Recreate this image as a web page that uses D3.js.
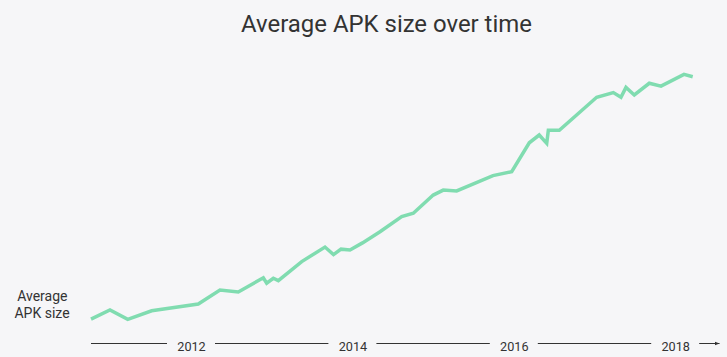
<!DOCTYPE html>
<html>
<head>
<meta charset="utf-8">
<script src="https://cdn.jsdelivr.net/npm/d3@7"></script>
<style>
  html, body { margin: 0; padding: 0; background: #f6f6f8; }
  svg { display: block; }
</style>
</head>
<body>
<svg id="chart" width="727" height="357"></svg>
<script>
// Decimal years of each sample
const dates = [2010.761, 2010.996, 2011.216, 2011.513, 2012.090, 2012.359, 2012.586, 2012.896,
  2012.938, 2013.020, 2013.082, 2013.372, 2013.660, 2013.766, 2013.859, 2013.970, 2014.125,
  2014.342, 2014.611, 2014.755, 2015.002, 2015.126, 2015.292, 2015.742, 2015.974, 2016.192,
  2016.315, 2016.408, 2016.428, 2016.564, 2017.027, 2017.233, 2017.328, 2017.390, 2017.493,
  2017.679, 2017.824, 2018.109, 2018.217];
// Relative average APK size (arbitrary units, 0-100)
const sizes = [4.2, 7.7, 4.1, 7.4, 10.0, 15.4, 14.6, 20.1, 18.0, 19.9, 19.0, 26.3, 31.9, 29.0,
  31.1, 30.8, 33.5, 37.8, 43.6, 44.9, 51.9, 53.8, 53.5, 59.4, 60.9, 72.0, 75.0, 71.8, 76.8,
  76.8, 89.5, 91.3, 89.5, 93.3, 90.4, 94.9, 93.8, 98.3, 97.4];
const tickYears = [2012, 2014, 2016, 2018];
const title = "Average APK size over time";
const yLabel = ["Average", "APK size"];

const data = dates.map((d, i) => ({ t: d, v: sizes[i] }));
const svg = d3.select("#chart");
const font = "Roboto, 'Open Sans', sans-serif";
const ink = "#333333";

// fit font size so a text node reaches a target width
function fit(sel, target) {
  const w = sel.node().getComputedTextLength();
  const fs = parseFloat(sel.attr("font-size"));
  if (w > 0) sel.attr("font-size", fs * target / w);
}

const x = d3.scaleLinear().domain([2012, 2018]).range([191, 675.2]);
const y = d3.scaleLinear().domain([0, 100]).range([330, 70]);

// Title
const tt = svg.append("text")
  .attr("x", 386.5).attr("y", 31.5)
  .attr("text-anchor", "middle")
  .attr("font-family", font).attr("font-size", 23)
  .attr("fill", ink)
  .text(title);
fit(tt, 291);

// Y label
const yl1 = svg.append("text")
  .attr("font-family", font).attr("font-size", 13.5)
  .attr("fill", ink).attr("text-anchor", "middle")
  .attr("x", 42.3).attr("y", 300.5).text(yLabel[0]);
fit(yl1, 50.4);
const fsY = yl1.attr("font-size");
svg.append("text")
  .attr("font-family", font).attr("font-size", fsY)
  .attr("fill", ink).attr("text-anchor", "middle")
  .attr("x", 42).attr("y", 317.5).text(yLabel[1]);

// X axis line with gaps around labels
const axisY = 343.5;
const gap = 24;
const xStart = 91, xEnd = 719.5;
const breaks = tickYears.map(t => x(t));
let segs = [];
let cur = xStart;
breaks.forEach(b => { segs.push([cur, b - gap]); cur = b + gap; });
segs.push([cur, xEnd]);

svg.append("defs").append("marker")
  .attr("id", "arrow").attr("viewBox", "0 0 10 10")
  .attr("refX", 10).attr("refY", 5)
  .attr("markerWidth", 5).attr("markerHeight", 5)
  .attr("orient", "auto")
  .append("path").attr("d", "M0,1 L10,5 L0,9 Z").attr("fill", "#333");

svg.append("g").selectAll("line").data(segs).join("line")
  .attr("x1", d => d[0]).attr("x2", d => d[1])
  .attr("y1", axisY).attr("y2", axisY)
  .attr("stroke", "#333").attr("stroke-width", 1)
  .attr("marker-end", (d, i) => i === segs.length - 1 ? "url(#arrow)" : null);

const axis = d3.axisBottom(x).tickValues(tickYears).tickFormat(d3.format("d")).tickSize(0);
const ag = svg.append("g").attr("transform", `translate(0,${axisY})`).call(axis);
ag.select(".domain").remove();
const tks = ag.selectAll("text")
  .attr("y", 7).attr("dy", 0)
  .attr("font-family", font).attr("font-size", 13.5)
  .attr("fill", ink);
const first = d3.select(tks.nodes()[0]);
fit(first, 28.5);
tks.attr("font-size", first.attr("font-size"));

// Line
const line = d3.line().x(d => x(d.t)).y(d => y(d.v));
svg.append("path")
  .datum(data)
  .attr("d", line)
  .attr("fill", "none")
  .attr("stroke", "#80dcb0")
  .attr("stroke-width", 3.5)
  .attr("stroke-linejoin", "miter")
  .attr("stroke-linecap", "butt");
</script>
</body>
</html>
